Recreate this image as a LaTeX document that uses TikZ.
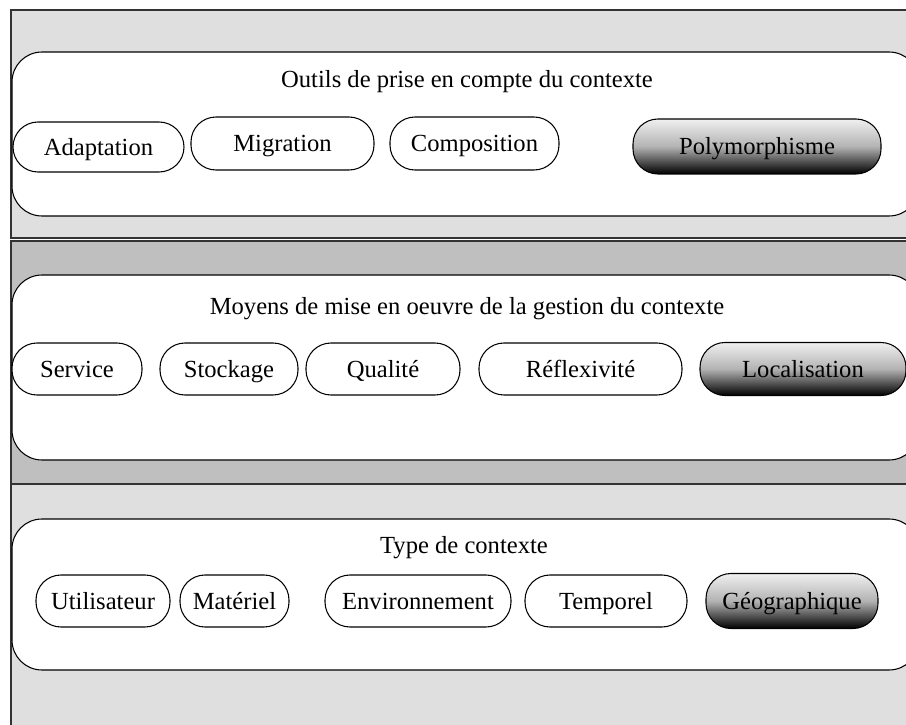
\documentclass[tikz,border=0pt]{standalone}
\usepackage{fontspec}
\setmainfont{Liberation Serif}
\usepackage{tikz}
\usepackage{xcolor}
\usetikzlibrary{positioning}

\begin{document}
\begin{tikzpicture}[
      x=1cm, y=1cm,
      band/.style={draw=black!80, line width=0.9pt},
      frame/.style={draw, rounded corners=0.6cm, fill=white, line width=0.6pt, minimum width=18.14cm},
      pill/.style={draw, rounded corners=0.5cm, fill=white, line width=0.6pt, minimum height=1.04cm, inner xsep=0pt, inner ysep=0pt, text height=12pt, text depth=2.5pt, font=\fontsize{14}{17}\selectfont},
      darkpill/.style={pill, top color=gray!12, bottom color=black, middle color=gray!60},
      heading/.style={font=\fontsize{14}{17}\selectfont}
  ]
    \useasboundingbox (0,0) rectangle (18.12,14.48);
    \clip (0,0) rectangle (18.12,14.48);
    % the three layers
    \draw[band, fill=gray!25] (0.22,9.72) rectangle (19,14.28);
    \draw[band, fill=gray!50] (0.22,4.80) rectangle (19,9.66);
    \draw[band, fill=gray!25] (0.22,-1) rectangle (19,4.80);
    % outils
    \node[frame, minimum height=3.28cm] (outils) at (9.31,11.80) {};
    \node[heading] (toutils) at (9.34,12.84) {Outils de prise en compte du contexte};
    \node[pill, minimum width=3.42cm, minimum height=1.0cm] (o1) at (1.97,11.54) {Adaptation};
    \node[pill, minimum width=3.66cm, minimum height=1.06cm] (o2) at (5.65,11.61) {Migration};
    \node[pill, minimum width=3.38cm, minimum height=1.06cm] (o3) at (9.49,11.61) {Composition};
    \node[darkpill, minimum width=4.96cm, minimum height=1.10cm] (o4) at (15.14,11.55) {Polymorphisme};
    % moyens
    \node[frame, minimum height=3.70cm] (moyens) at (9.31,7.13) {};
    \node[heading] (tmoyens) at (9.34,8.30) {Moyens de mise en oeuvre de la gestion du contexte};
    \node[pill, minimum width=2.60cm] (m1) at (1.54,7.10) {Service};
    \node[pill, minimum width=2.76cm] (m2) at (4.58,7.10) {Stockage};
    \node[pill, minimum width=3.08cm] (m3) at (7.66,7.10) {Qualité};
    \node[pill, minimum width=4.06cm] (m4) at (11.61,7.10) {Réflexivité};
    \node[darkpill, minimum width=4.12cm, minimum height=1.06cm] (m5) at (16.06,7.10) {Localisation};
    % types
    \node[frame, minimum height=3.02cm] (types) at (9.31,2.59) {};
    \node[heading] (ttypes) at (9.28,3.52) {Type de contexte};
    \node[pill, minimum width=2.68cm] (t1) at (2.06,2.46) {Utilisateur};
    \node[pill, minimum width=2.18cm] (t2) at (4.69,2.46) {Matériel};
    \node[pill, minimum width=3.72cm] (t3) at (8.36,2.46) {Environnement};
    \node[pill, minimum width=3.24cm] (t4) at (12.12,2.46) {Temporel};
    \node[darkpill, minimum width=3.44cm, minimum height=1.10cm] (t5) at (15.84,2.46) {Géographique};
  \end{tikzpicture}
\end{document}
